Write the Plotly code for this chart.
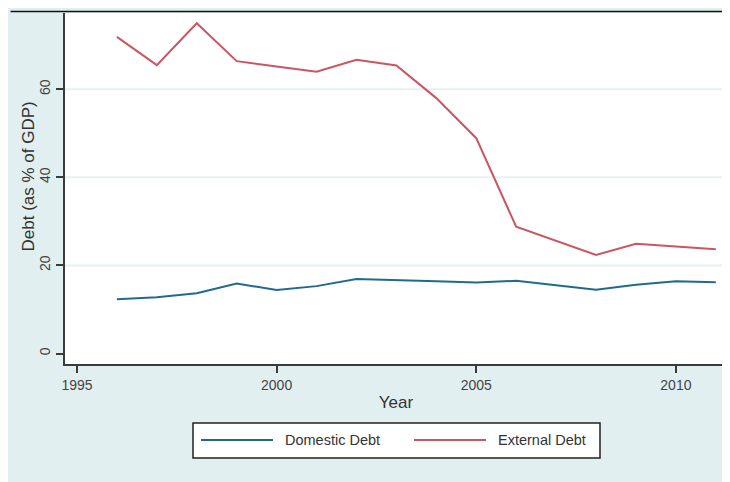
import plotly.graph_objects as go

years = list(range(1996, 2012))
domestic_debt = [12.3, 12.8, 13.7, 15.9, 14.4, 15.3, 16.9, 16.7, 16.4, 16.1, 16.5, 15.5, 14.5, 15.6, 16.4, 16.2]
external_debt = [71.9, 65.5, 75.0, 66.4, 65.2, 64.0, 66.7, 65.4, 58.0, 48.9, 28.8, 25.6, 22.4, 24.9, 24.3, 23.7]
series_names = ["Domestic Debt", "External Debt"]
x_ticks = [1995, 2000, 2005, 2010]
y_ticks = [0, 20, 40, 60]
grid_values = [20, 40, 60]

BLUE = "#1f6b8f"
RED = "#cb5560"
BG = "#e2eff0"
GRID = "#e6f1f1"
AX = "#3a3a3a"
FONT = "Liberation Sans, Arial, sans-serif"

# the page body adds an 8px offset; figure sized to fill the rest of the window
OFF = 8
W, H = 730 - OFF, 482 - OFF
L, R, T, B = 65 - OFF, 3, 13 - OFF, 118
PW, PH = W - L - R, H - T - B


def px(xp):
    # page pixel x -> paper coordinate
    return (xp - OFF - L) / PW


def py(yp):
    # page pixel y -> paper coordinate
    return (H - B - (yp - OFF)) / PH


fig = go.Figure()
fig.add_trace(go.Scatter(x=years, y=domestic_debt, mode="lines", name=series_names[0],
                         line=dict(color=BLUE, width=2)))
fig.add_trace(go.Scatter(x=years, y=external_debt, mode="lines", name=series_names[1],
                         line=dict(color=RED, width=2)))

for g in grid_values:
    fig.add_hline(y=g, line=dict(color=GRID, width=2), layer="below")

shapes = [
    # white surround outside the framed region
    dict(type="rect", xref="paper", yref="paper", x0=-0.3, x1=px(10), y0=-0.6, y1=1.3,
         fillcolor="white", line=dict(width=0), layer="above"),
    dict(type="rect", xref="paper", yref="paper", x0=-0.3, x1=1.3, y0=py(11), y1=1.3,
         fillcolor="white", line=dict(width=0), layer="above"),
    dict(type="line", xref="paper", yref="paper", x0=px(10.5), x1=px(10.5), y0=-0.6, y1=py(11.5),
         line=dict(color="#111111", width=1.5), layer="above"),
    dict(type="line", xref="paper", yref="paper", x0=px(10.5), x1=1.3, y0=py(11.5), y1=py(11.5),
         line=dict(color="#111111", width=1.5), layer="above"),
    # legend box
    dict(type="rect", xref="paper", yref="paper", x0=px(193), x1=px(600), y0=py(458), y1=py(423),
         fillcolor="white", line=dict(color="#222222", width=1.5), layer="above"),
    dict(type="line", xref="paper", yref="paper", x0=px(201), x1=px(273), y0=py(440), y1=py(440),
         line=dict(color=BLUE, width=2), layer="above"),
    dict(type="line", xref="paper", yref="paper", x0=px(414), x1=px(486), y0=py(440), y1=py(440),
         line=dict(color=RED, width=2), layer="above"),
]

annotations = [
    dict(text=series_names[0], xref="paper", yref="paper", x=px(283), y=py(440),
         xanchor="left", yanchor="middle", showarrow=False,
         font=dict(family=FONT, size=14.5, color="#333333")),
    dict(text=series_names[1], xref="paper", yref="paper", x=px(496), y=py(440),
         xanchor="left", yanchor="middle", showarrow=False,
         font=dict(family=FONT, size=14.5, color="#333333")),
    dict(text="Debt (as % of GDP)", xref="paper", yref="paper", x=px(27.5), y=py(177),
         xanchor="center", yanchor="middle", textangle=-90, showarrow=False,
         font=dict(family=FONT, size=17, color="#333333")),
]

fig.update_layout(
    width=W, height=H,
    margin=dict(l=L, r=R, t=T, b=B),
    paper_bgcolor=BG, plot_bgcolor="white",
    showlegend=False,
    font=dict(family=FONT, color="#333333"),
    shapes=shapes,
    annotations=annotations,
    xaxis=dict(range=[1994.70, 2011.28], tickvals=x_ticks, ticks="outside", ticklen=7,
               tickwidth=1.5, tickcolor=AX, showline=True, linecolor=AX, linewidth=2,
               showgrid=False, zeroline=False,
               tickfont=dict(family=FONT, size=14, color="#444444"),
               title=dict(text="Year", font=dict(family=FONT, size=17, color="#333333"), standoff=4)),
    yaxis=dict(range=[-2.385, 77.33], tickvals=y_ticks, ticks="outside", ticklen=7,
               tickwidth=1.5, tickcolor=AX, showline=True, linecolor=AX, linewidth=2,
               showgrid=False, zeroline=False, tickangle=-90,
               tickfont=dict(family=FONT, size=14, color="#444444")),
)

fig.write_html("out.html")
